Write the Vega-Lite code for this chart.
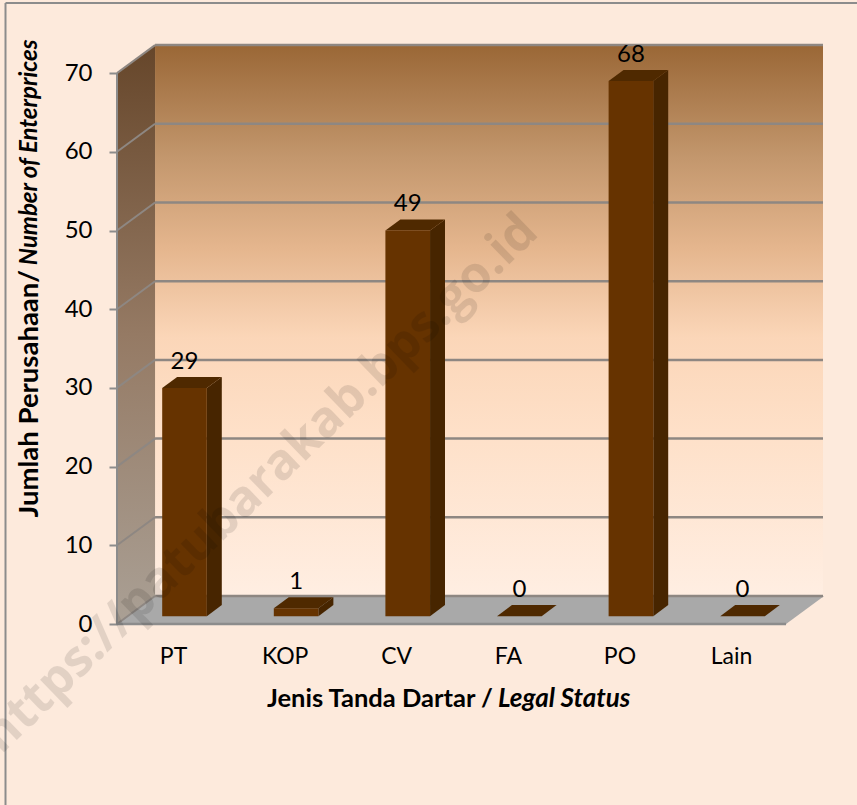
{
"$schema":"https://vega.github.io/schema/vega-lite/v6.json",
"width":706,"height":580,
"autosize":{"type":"none"},
"padding":{"left":117,"top":44,"right":34,"bottom":181},
"background":"#fdeadc",
"view":{"stroke":null},
"config":{"font":"Lato"},
"datasets":{
"bars":[{"kategori":"PT","jumlah":29},{"kategori":"KOP","jumlah":1},{"kategori":"CV","jumlah":49},{"kategori":"FA","jumlah":0},{"kategori":"PO","jumlah":68},{"kategori":"Lain","jumlah":0}],
"ticks":[{"tick":0},{"tick":10},{"tick":20},{"tick":30},{"tick":40},{"tick":50},{"tick":60},{"tick":70}],
"one":[{"n":1}]
},
"encoding":{
"x":{"field":"x","type":"quantitative","title":null,"scale":{"domain":[0.395,6.721],"nice":false,"zero":false},
"axis":{"values":[1,2,3,4,5,6],"labelExpr":"['PT','KOP','CV','FA','PO','Lain'][datum.value-1]","grid":false,"domain":false,"ticks":false,"labelFontSize":23,"labelColor":"#000","labelPadding":21,"labelOffset":-11.5,"labelFlush":false,"labelOverlap":false,"labelFont":"Lato"}},
"y":{"field":"y","type":"quantitative","title":null,"scale":{"domain":[0,73.7],"nice":false,"zero":false},
"axis":{"values":[0,10,20,30,40,50,60,70],"grid":false,"domain":false,"tickSize":8,"tickWidth":2,"tickColor":"#8c8c8c","labelFontSize":24,"labelColor":"#000","labelPadding":17,"labelFont":"Lato"}}
},
"layer":[
{"data":{"name":"one"},"transform":[{"calculate":"0.736","as":"x"},{"calculate":"6.721","as":"x2"},{"calculate":"3.56","as":"y"},{"calculate":"73.56","as":"y2"}],
"mark":{"type":"rect","fill":{"gradient":"linear","x1":0,"y1":1,"x2":0,"y2":0,"stops":[{"offset":0,"color":"#ffeee2"},{"offset":0.3,"color":"#fee0c8"},{"offset":0.47,"color":"#fbd6b8"},{"offset":0.63,"color":"#e5b68e"},{"offset":0.8,"color":"#c2966c"},{"offset":1,"color":"#9a6736"}]}},
"encoding":{"x2":{"field":"x2"},"y2":{"field":"y2"}}},
{"data":{"name":"one"},"transform":[{"calculate":"[0,1]","as":"corner"},{"flatten":["corner"]},{"calculate":"0.395+datum.corner*0.341","as":"x"},{"calculate":"datum.corner*3.56","as":"y"},{"calculate":"70+datum.corner*3.56","as":"y2"}],
"mark":{"type":"area","fill":{"gradient":"linear","x1":0,"y1":1,"x2":0,"y2":0,"stops":[{"offset":0,"color":"#aaa095"},{"offset":0.5,"color":"#957a64"},{"offset":1,"color":"#66462a"}]}},
"encoding":{"y2":{"field":"y2"}}},
{"data":{"name":"one"},"transform":[{"calculate":"[0,1,2,3]","as":"k"},{"flatten":["k"]},{"calculate":"[0.395,0.736,6.39,6.731][datum.k]","as":"x"},{"calculate":"datum.k==3?3.56:0","as":"y"},{"calculate":"datum.k==0?0:3.56","as":"y2"}],
"mark":{"type":"area","fill":"#a9a9a9"},
"encoding":{"y2":{"field":"y2"}}},
{"data":{"name":"ticks"},"transform":[{"calculate":"0.736","as":"x"},{"calculate":"6.721","as":"x2"},{"calculate":"datum.tick+3.56","as":"y"}],
"mark":{"type":"rule","stroke":"#8e8782","strokeWidth":2.5},
"encoding":{"x2":{"field":"x2"}}},
{"data":{"name":"ticks"},"transform":[{"calculate":"0.395","as":"x"},{"calculate":"0.736","as":"x2"},{"calculate":"datum.tick","as":"y"},{"calculate":"datum.tick+3.56","as":"y2"}],
"mark":{"type":"rule","stroke":"#8e8782","strokeWidth":2},
"encoding":{"x2":{"field":"x2"},"y2":{"field":"y2"}}},
{"data":{"name":"one"},"transform":[{"calculate":"0.395","as":"x"},{"calculate":"0","as":"y"},{"calculate":"70","as":"y2"}],
"mark":{"type":"rule","stroke":"#8c8c8c","strokeWidth":2},
"encoding":{"y2":{"field":"y2"}}},
{"data":{"name":"one"},"transform":[{"calculate":"0.395","as":"x"},{"calculate":"6.39","as":"x2"},{"calculate":"0","as":"y"}],
"mark":{"type":"rule","stroke":"#8c8c8c","strokeWidth":2.5},
"encoding":{"x2":{"field":"x2"}}},
{"data":{"name":"bars"},"transform":[{"calculate":"indexof(['PT','KOP','CV','FA','PO','Lain'],datum.kategori)+1","as":"c"},{"calculate":"[0,1]","as":"corner"},{"flatten":["corner"]},{"calculate":"datum.c+0.2+datum.corner*0.134","as":"x"},{"calculate":"1+datum.corner*1.4","as":"y"},{"calculate":"1+datum.jumlah+datum.corner*1.4","as":"y2"}],
"mark":{"type":"area","fill":"#472500"},
"encoding":{"y2":{"field":"y2"},"detail":{"field":"kategori"}}},
{"data":{"name":"bars"},"transform":[{"calculate":"indexof(['PT','KOP','CV','FA','PO','Lain'],datum.kategori)+1","as":"c"},{"calculate":"[0,1,2,3]","as":"k"},{"flatten":["k"]},{"calculate":"datum.c+[-0.2,-0.066,0.2,0.334][datum.k]","as":"x"},{"calculate":"1+datum.jumlah+(datum.k==3?1.4:0)","as":"y"},{"calculate":"1+datum.jumlah+(datum.k==0?0:1.4)","as":"y2"}],
"mark":{"type":"area","fill":"#4f2900"},
"encoding":{"y2":{"field":"y2"},"detail":{"field":"kategori"}}},
{"data":{"name":"bars"},"transform":[{"calculate":"indexof(['PT','KOP','CV','FA','PO','Lain'],datum.kategori)+1","as":"c"},{"calculate":"datum.c-0.2","as":"x"},{"calculate":"datum.c+0.2","as":"x2"},{"calculate":"1","as":"y"},{"calculate":"1+datum.jumlah","as":"y2"}],
"mark":{"type":"rect","fill":"#663300"},
"encoding":{"x2":{"field":"x2"},"y2":{"field":"y2"}}},
{"data":{"name":"bars"},"transform":[{"calculate":"indexof(['PT','KOP','CV','FA','PO','Lain'],datum.kategori)+1","as":"x"},{"calculate":"2.4+datum.jumlah","as":"y"}],
"mark":{"type":"text","fontSize":24,"dy":-8,"baseline":"alphabetic","align":"center","color":"#000","font":"Lato"},
"encoding":{"text":{"field":"jumlah","type":"quantitative"}}},
{"data":{"values":[{"label":"Jenis Tanda Dartar /"}]},"transform":[{"calculate":"3.764","as":"x"},{"calculate":"-10.6","as":"y"}],
"mark":{"type":"text","fontSize":25.5,"fontWeight":"bold","align":"right","baseline":"alphabetic","color":"#000","font":"Lato"},
"encoding":{"text":{"field":"label"}}},
{"data":{"values":[{"label":"Legal Status"}]},"transform":[{"calculate":"3.764","as":"x"},{"calculate":"-10.6","as":"y"}],
"mark":{"type":"text","fontSize":26,"fontWeight":"bold","fontStyle":"italic","align":"left","dx":5,"baseline":"alphabetic","color":"#000","font":"Lato"},
"encoding":{"text":{"field":"label"}}},
{"data":{"values":[{"label":"Jumlah Perusahaan/"}]},"transform":[{"calculate":"-0.384","as":"x"},{"calculate":"45","as":"y"}],
"mark":{"type":"text","fontSize":27.5,"fontWeight":"bold","angle":270,"align":"right","baseline":"middle","color":"#000","font":"Lato"},
"encoding":{"text":{"field":"label"}}},
{"data":{"values":[{"label":"Number of Enterprices"}]},"transform":[{"calculate":"-0.384","as":"x"},{"calculate":"45.6","as":"y"}],
"mark":{"type":"text","fontSize":24,"fontWeight":"bold","fontStyle":"italic","angle":270,"align":"left","baseline":"middle","color":"#000","font":"Lato"},
"encoding":{"text":{"field":"label"}}},
{"data":{"name":"one"},"transform":[{"calculate":"-0.604","as":"x"},{"calculate":"7.1","as":"x2"},{"calculate":"78.9","as":"y"}],
"mark":{"type":"rule","stroke":"#8c8c8c","strokeWidth":2},
"encoding":{"x2":{"field":"x2"}}},
{"data":{"name":"one"},"transform":[{"calculate":"-0.604","as":"x"},{"calculate":"78.9","as":"y"},{"calculate":"-24","as":"y2"}],
"mark":{"type":"rule","stroke":"#8c8c8c","strokeWidth":2},
"encoding":{"y2":{"field":"y2"}}},
{"data":{"values":[{"label":"https://patubarakab.bps.go.id"}]},"transform":[{"calculate":"1.68","as":"x"},{"calculate":"17.8","as":"y"}],
"mark":{"type":"text","fontSize":50,"fontWeight":"bold","angle":316,"align":"center","baseline":"middle","color":"#000","opacity":0.1,"font":"Open Sans"},
"encoding":{"text":{"field":"label"}}}
]
}
